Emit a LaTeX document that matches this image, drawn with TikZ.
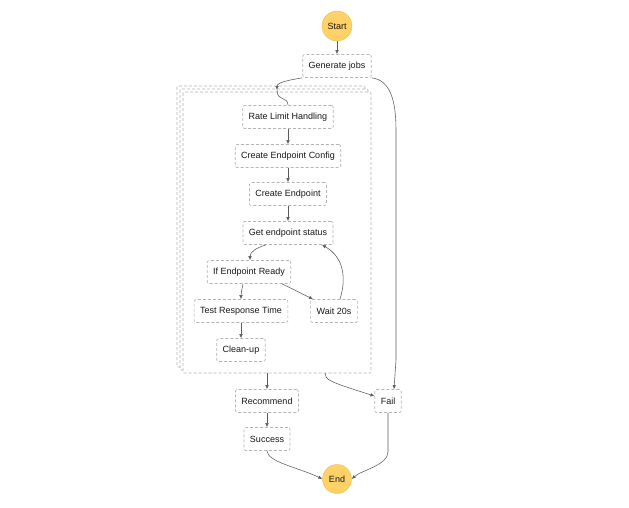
\documentclass[tikz,border=0pt]{standalone}
\usepackage{fontspec}
\setmainfont{Liberation Sans}
\usetikzlibrary{arrows.meta}
\definecolor{termfill}{HTML}{FFD166}
\definecolor{termline}{HTML}{EBBE55}
\definecolor{boxgray}{HTML}{B4B4B4}
\definecolor{linegray}{HTML}{5A5A5A}
\begin{document}
\begin{tikzpicture}[x=1pt,y=-1pt,
        state/.style={draw=boxgray, line width=0.65pt, dash pattern=on 3pt off 2pt, rounded corners=2pt, fill=white,
            inner xsep=6pt, minimum height=23pt, text=black!90, font=\fontsize{9}{10}\selectfont},
        term/.style={circle, draw=termline, fill=termfill, inner sep=0pt, text=black!90,
            font=\fontsize{9}{10}\selectfont},
        mapbox/.style={draw=boxgray, line width=0.65pt, dash pattern=on 3pt off 2pt, fill=white, rounded corners=1pt},
        flow/.style={draw=linegray, line width=0.55pt, -{Latex[length=4pt,width=3.5pt]}},
        link/.style={draw=linegray, line width=0.55pt}]
        \useasboundingbox (0,0) rectangle (629,507);

        % map container, stacked
        \draw[mapbox] (177,86) rectangle (365,367);
        \draw[mapbox] (180,89) rectangle (368,370);
        \draw[mapbox] (183,92) rectangle (371,373);
        \coordinate (mapin) at (277,90);
        \coordinate (mapout) at (267,373);
        \coordinate (mapfail) at (325,373);

        \node[term, minimum size=30pt] (start) at (337,26) {Start};
        \node[state] (gen) at (337,66) {Generate jobs};

        \node[state] (rate) at (288,117) {Rate Limit Handling};
        \node[state] (cfg) at (288,156) {Create Endpoint Config};
        \node[state] (create) at (288,194) {Create Endpoint};
        \node[state] (status) at (288,233) {Get endpoint status};
        \node[state] (ready) at (249,272) {If Endpoint Ready};
        \node[state] (test) at (241,311) {Test Response Time};
        \node[state] (wait) at (334,311) {Wait 20s};
        \node[state] (clean) at (241,350) {Clean-up};

        \node[state] (rec) at (267,401) {Recommend};
        \node[state] (succ) at (267,439) {Success};
        \node[state] (fail) at (388,401) {Fail};
        \node[term, minimum size=29pt] (end) at (337,479) {End};

        \draw[flow] (start) -- (gen);
        \draw[flow] (gen.south west) .. controls (290,80) and (277,82) .. (mapin);
        \draw[link] (mapin) .. controls (277,102) and (288,96) .. (rate.north);
        \draw[flow] (gen.south east) .. controls (390,80) and (396,100) .. (396,130)
            -- (396,360) -- ([xshift=6pt]fail.north);

        \draw[flow] (rate) -- (cfg);
        \draw[flow] (cfg) -- (create);
        \draw[flow] (create) -- (status);
        \draw[flow] ([xshift=-22pt]status.south) .. controls (256,248) and (250,252) .. ([xshift=1pt]ready.north);
        \draw[flow] ([xshift=-6pt]ready.south) .. controls (242,290) and (241,292) .. (test.north);
        \draw[flow] ([xshift=33pt]ready.south) -- ([xshift=-21pt]wait.north);
        \draw[flow] ([xshift=6pt]wait.north) .. controls (346,280) and (345,258) .. ([xshift=34pt]status.south);
        \draw[flow] (test) -- (clean);

        \draw[flow] (mapout) -- (rec.north);
        \draw[flow] (mapfail) .. controls (325,380) and (330,382) .. (fail.west |- 0,396);
        \draw[flow] (rec) -- (succ);
        \draw[flow] (succ.south) .. controls (267,462) and (300,468) .. (end.west);
        \draw[flow] (fail.south) -- (388,452) .. controls (388,465) and (362,470) .. (end.east);
    \end{tikzpicture}
\end{document}
